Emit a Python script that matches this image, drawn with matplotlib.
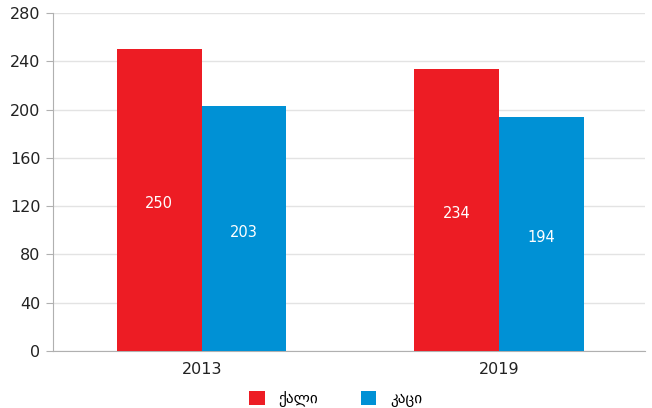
import matplotlib
matplotlib.use("Agg")
from matplotlib import pyplot as plt
import numpy as np

years = ["2013", "2019"]
women = [250, 234]
men = [203, 194]
labels = ["ქალი", "კაცი"]
RED = "#ED1C24"
BLUE = "#0091D5"

fig = plt.figure(figsize=(6.52, 4.08), dpi=100)
ax = fig.add_axes([0.0813, 0.1397, 0.9077, 0.8284])

x = np.arange(len(years))
w = 0.285
b1 = ax.bar(x - w / 2, women, w, color=RED, label=labels[0], zorder=3)
b2 = ax.bar(x + w / 2, men, w, color=BLUE, label=labels[1], zorder=3)

for bars in (b1, b2):
    for r in bars:
        h = r.get_height()
        ax.text(r.get_x() + r.get_width() / 2, h / 2 - 3, str(int(h)),
                ha="center", va="center", color="white", fontsize=10.5)

ax.set_xlim(-0.5, 1.49)
ax.set_ylim(0, 280)
ax.set_yticks(range(0, 281, 40))
ax.set_xticks(x)
ax.set_xticklabels(years)
ax.grid(axis="y", color="#e3e3e3", linewidth=1, zorder=0)
for s in ["top", "right"]:
    ax.spines[s].set_visible(False)
ax.spines["left"].set_color("#b0b0b0")
ax.spines["bottom"].set_color("#b0b0b0")
ax.tick_params(axis="y", length=5, color="#b0b0b0", labelsize=11.5, labelcolor="#222222", pad=4)
ax.tick_params(axis="x", length=0, labelsize=11.5, labelcolor="#222222", pad=8)

fig.legend(handles=[b1, b2], loc="center", bbox_to_anchor=(0.515, 0.022), ncol=2,
           frameon=False, fontsize=11, handlelength=1.0, handleheight=1.0,
           columnspacing=2.8, handletextpad=0.9)

fig.savefig("out.png", dpi=100)
